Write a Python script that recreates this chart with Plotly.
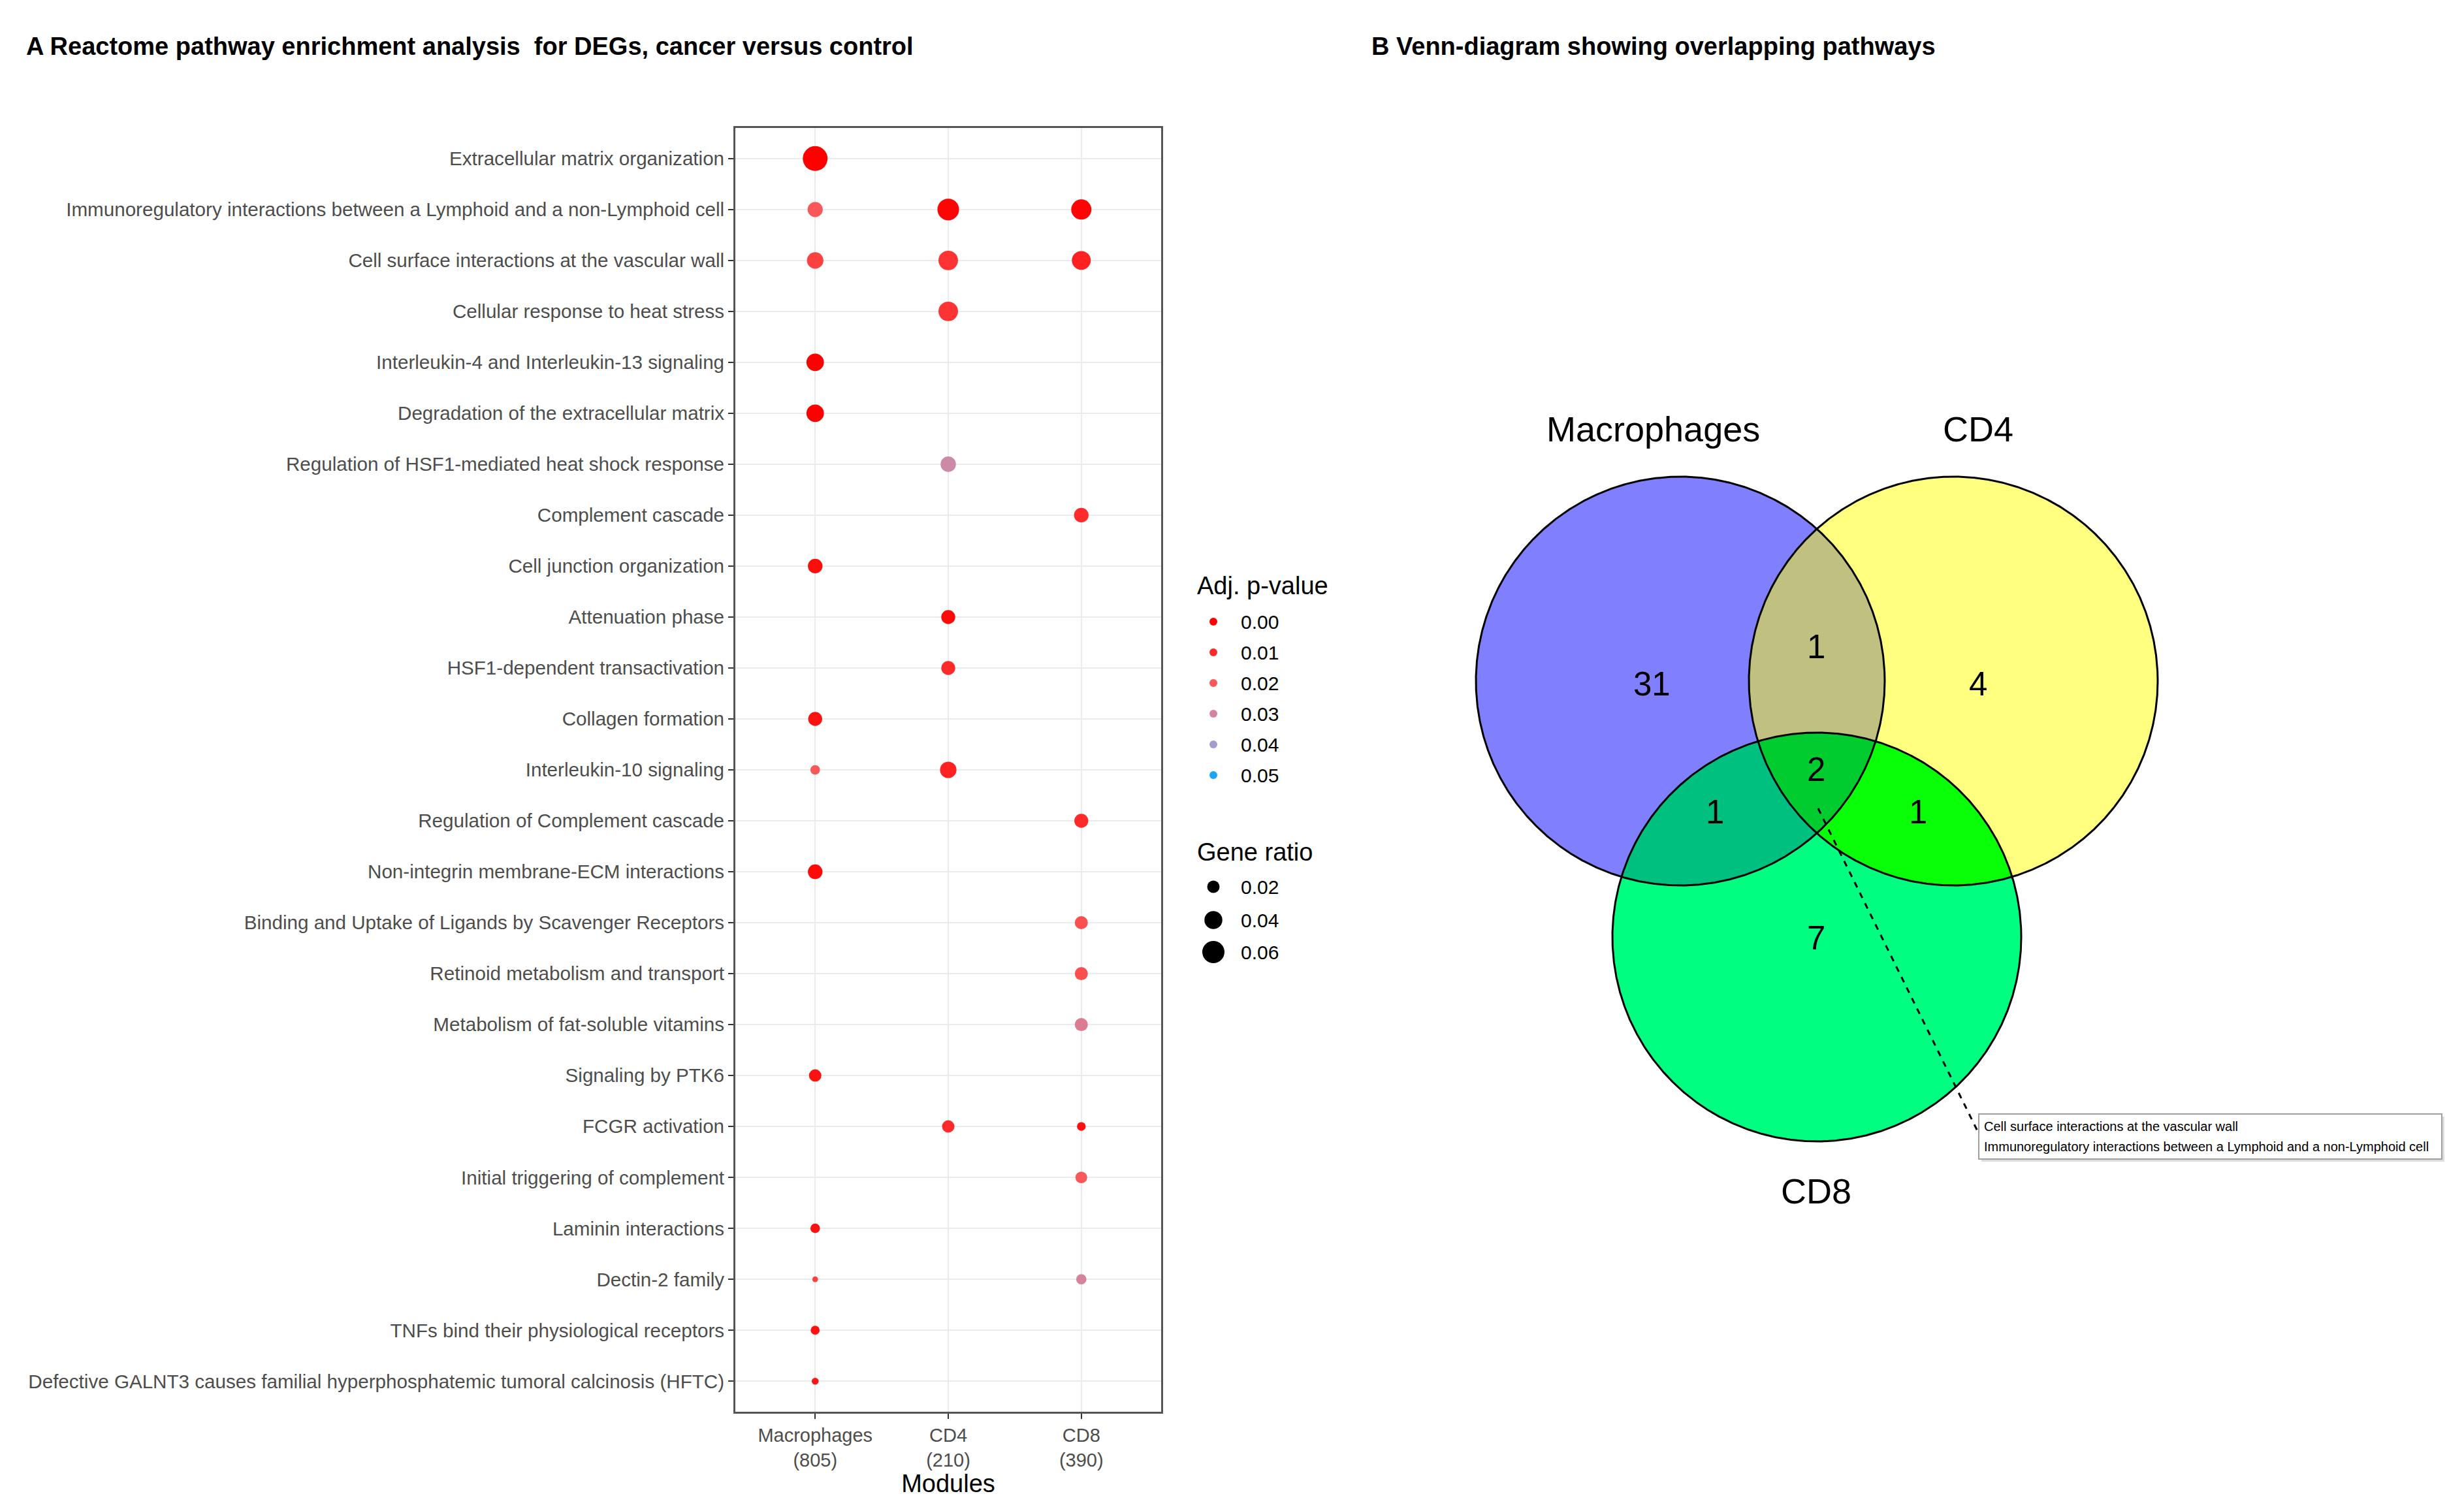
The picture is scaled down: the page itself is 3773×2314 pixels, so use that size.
import numpy as np
import plotly.graph_objects as go

W, H = 3773, 2314          # screenshot size
OFF = 8                    # default body margin of the html page
FW, FH = W - 2 * OFF, H - 2 * OFF
FONT = "Liberation Sans, Arial, sans-serif"

# ---------------- data ----------------
pathways = [
    "Extracellular matrix organization",
    "Immunoregulatory interactions between a Lymphoid and a non-Lymphoid cell",
    "Cell surface interactions at the vascular wall",
    "Cellular response to heat stress",
    "Interleukin-4 and Interleukin-13 signaling",
    "Degradation of the extracellular matrix",
    "Regulation of HSF1-mediated heat shock response",
    "Complement cascade",
    "Cell junction organization",
    "Attenuation phase",
    "HSF1-dependent transactivation",
    "Collagen formation",
    "Interleukin-10 signaling",
    "Regulation of Complement cascade",
    "Non-integrin membrane-ECM interactions",
    "Binding and Uptake of Ligands by Scavenger Receptors",
    "Retinoid metabolism and transport",
    "Metabolism of fat-soluble vitamins",
    "Signaling by PTK6",
    "FCGR activation",
    "Initial triggering of complement",
    "Laminin interactions",
    "Dectin-2 family",
    "TNFs bind their physiological receptors",
    "Defective GALNT3 causes familial hyperphosphatemic tumoral calcinosis (HFTC)",
]
modules = ["Macrophages", "CD4", "CD8"]
module_n = [805, 210, 390]

N = None
mac_ratio = [0.074, 0.029, 0.034, N, 0.038, 0.038, N, N, 0.027, N, N, 0.025, 0.0125,
             N, 0.027, N, N, N, 0.020, N, N, 0.0125, 0.005, 0.011, 0.007]
mac_padj = [0.000, 0.020, 0.015, N, 0.000, 0.000, N, N, 0.003, N, N, 0.004, 0.020,
            N, 0.002, N, N, N, 0.004, N, N, 0.004, 0.015, 0.004, 0.005]
cd4_ratio = [N, 0.057, 0.047, 0.047, N, N, 0.030, N, N, 0.025, 0.025, N, 0.034,
             N, N, N, N, N, N, 0.020, N, N, N, N, N]
cd4_padj = [N, 0.001, 0.012, 0.012, N, N, 0.032, N, N, 0.002, 0.010, N, 0.008,
            N, N, N, N, N, N, 0.010, N, N, N, N, N]
cd8_ratio = [N, 0.050, 0.044, N, N, N, N, 0.027, N, N, N, N, N,
             0.025, N, 0.022, 0.022, 0.022, N, 0.0106, 0.018, N, 0.014, N, N]
cd8_padj = [N, 0.001, 0.008, N, N, N, N, 0.010, N, N, N, N, N,
            0.010, N, 0.018, 0.018, 0.028, N, 0.004, 0.020, N, 0.030, N, N]

padj_legend = [0.00, 0.01, 0.02, 0.03, 0.04, 0.05]
ratio_legend = [0.02, 0.04, 0.06]

venn_sets = ["Macrophages", "CD4", "CD8"]
venn_only_mac, venn_only_cd4, venn_only_cd8 = 31, 4, 7
venn_mac_cd4, venn_mac_cd8, venn_cd4_cd8, venn_all = 1, 1, 1, 2
shared_all_pathways = ["Cell surface interactions at the vascular wall",
                       "Immunoregulatory interactions between a Lymphoid and a non-Lymphoid cell"]

# ---------------- scales ----------------
padj_scale = [[0.0, "#FF0000"], [0.2, "#FF2B2B"], [0.4, "#F85858"],
              [0.6, "#D6849E"], [0.8, "#A89BCF"], [1.0, "#18A7F7"]]


def ratio_to_px(r):
    return 19 + 145 * (np.sqrt(np.asarray(r, dtype=float)) - np.sqrt(0.02))


fig = go.Figure()

# ---------------- dot plot ----------------
for mod, ratios, padjs in [("Macrophages", mac_ratio, mac_padj),
                           ("CD4", cd4_ratio, cd4_padj),
                           ("CD8", cd8_ratio, cd8_padj)]:
    ys = [p for p, r in zip(pathways, ratios) if r is not None]
    rs = [r for r in ratios if r is not None]
    ps = [p for p in padjs if p is not None]
    fig.add_trace(go.Scatter(
        x=[mod] * len(ys), y=ys, mode="markers", xaxis="x", yaxis="y",
        marker=dict(size=ratio_to_px(rs), color=ps, colorscale=padj_scale,
                    cmin=0, cmax=0.05, line=dict(width=0), opacity=1),
        showlegend=False, hoverinfo="skip"))

px_left, px_right, px_top, px_bot = 1126, 1778, 196, 2162
fig.update_layout(
    xaxis=dict(domain=[(px_left - OFF) / FW, (px_right - OFF) / FW], anchor="y",
               type="category", categoryorder="array", categoryarray=modules,
               range=[-0.6, 2.6],
               tickvals=modules,
               ticktext=[f"{m}<br>({n})" for m, n in zip(modules, module_n)],
               tickfont=dict(size=29, color="#4D4D4D", family=FONT),
               ticks="outside", ticklen=8, tickwidth=2, tickcolor="#333333",
               showgrid=True, gridcolor="#EBEBEB", gridwidth=2,
               showline=True, mirror=True, linecolor="#555555", linewidth=3,
               zeroline=False,
               title=dict(text="Modules", font=dict(size=38, color="#000000", family=FONT),
                          standoff=2)),
    yaxis=dict(domain=[1 - (px_bot - OFF) / FH, 1 - (px_top - OFF) / FH], anchor="x",
               type="category", categoryorder="array",
               categoryarray=list(reversed(pathways)),
               range=[-0.6, len(pathways) - 0.4],
               tickfont=dict(size=29.6, color="#4D4D4D", family=FONT),
               ticks="outside", ticklen=8, tickwidth=2, tickcolor="#333333",
               showgrid=True, gridcolor="#EBEBEB", gridwidth=2,
               showline=True, mirror=True, linecolor="#555555", linewidth=3,
               zeroline=False),
    xaxis2=dict(domain=[0, 1], anchor="y2", range=[OFF, OFF + FW], visible=False,
                fixedrange=True),
    yaxis2=dict(domain=[0, 1], anchor="x2", range=[OFF + FH, OFF], visible=False,
                fixedrange=True),
)

annotations = []


def txt(x, y, s, size, color="#000000", xanchor="center", yanchor="middle", bold=False):
    if bold:
        s = f"<b>{s}</b>"
    annotations.append(dict(x=x, y=y, xref="x2", yref="y2", text=s, showarrow=False,
                            xanchor=xanchor, yanchor=yanchor,
                            font=dict(size=size, color=color, family=FONT)))


# ---------------- legends ----------------
leg_x = 1858
txt(1831, 897, "Adj. p-value", 38, xanchor="left")
padj_leg_y = [952, 999, 1046, 1093, 1140, 1187]
fig.add_trace(go.Scatter(
    x=[leg_x] * len(padj_legend), y=padj_leg_y, xaxis="x2", yaxis="y2", mode="markers",
    marker=dict(size=12, color=padj_legend, colorscale=padj_scale, cmin=0, cmax=0.05,
                line=dict(width=0), opacity=1),
    showlegend=False, hoverinfo="skip"))
for v, yy in zip(padj_legend, padj_leg_y):
    txt(1898, yy, f"{v:.2f}", 30, xanchor="left")

txt(1831, 1305, "Gene ratio", 38, xanchor="left")
ratio_leg_y = [1358, 1409, 1458]
fig.add_trace(go.Scatter(
    x=[leg_x] * len(ratio_legend), y=ratio_leg_y, xaxis="x2", yaxis="y2", mode="markers",
    marker=dict(size=ratio_to_px(ratio_legend), color="#000000", line=dict(width=0),
                opacity=1),
    showlegend=False, hoverinfo="skip"))
for v, yy in zip(ratio_legend, ratio_leg_y):
    txt(1898, yy, f"{v:.2f}", 30, xanchor="left")

# ---------------- titles ----------------
txt(38, 71, "A Reactome pathway enrichment analysis  for DEGs, cancer versus control", 38,
    xanchor="left", bold=True)
txt(2098, 71, "B Venn-diagram showing overlapping pathways", 38, xanchor="left", bold=True)

# ---------------- Venn diagram ----------------
centers = np.array([[2573.0, 1043.0], [2991.0, 1043.0], [2782.0, 1435.0]])
R = 313.0
theta = np.linspace(0, 2 * np.pi, 1441)


def circle_pts(i):
    return centers[i, 0] + R * np.cos(theta), centers[i, 1] + R * np.sin(theta)


def convex_region(idx):
    pts = []
    for i in idx:
        cx, cy = circle_pts(i)
        P = np.column_stack([cx, cy])
        mask = np.ones(len(P), bool)
        for j in idx:
            if j != i:
                mask &= np.hypot(P[:, 0] - centers[j, 0], P[:, 1] - centers[j, 1]) <= R + 1e-6
        pts.append(P[mask])
    P = np.vstack(pts)
    c = P.mean(axis=0)
    order = np.argsort(np.arctan2(P[:, 1] - c[1], P[:, 0] - c[0]))
    P = P[order]
    P = np.vstack([P, P[:1]])
    return P[:, 0], P[:, 1]


def fill_poly(xs, ys, color):
    fig.add_trace(go.Scatter(x=xs, y=ys, xaxis="x2", yaxis="y2", mode="lines",
                             fill="toself", fillcolor=color, line=dict(width=0),
                             showlegend=False, hoverinfo="skip"))


set_colors = ["#8080FF", "#FFFF80", "#00FF80"]
for i in range(3):
    cx, cy = circle_pts(i)
    fill_poly(cx, cy, set_colors[i])
for idx, col in [((0, 1), "#C0C080"), ((0, 2), "#00C080"), ((1, 2), "#08FF08"),
                 ((0, 1, 2), "#00CC30")]:
    xs, ys = convex_region(idx)
    fill_poly(xs, ys, col)
for i in range(3):
    cx, cy = circle_pts(i)
    fig.add_trace(go.Scatter(x=cx, y=cy, xaxis="x2", yaxis="y2", mode="lines",
                             line=dict(color="#000000", width=3),
                             showlegend=False, hoverinfo="skip"))

# set labels
txt(2531, 657, venn_sets[0], 54)
txt(3029, 657, venn_sets[1], 54)
txt(2781, 1824, venn_sets[2], 54)
# counts
for (x, y), v in [((2529, 1047), venn_only_mac), ((3029, 1047), venn_only_cd4),
                  ((2781, 1436), venn_only_cd8), ((2781, 990), venn_mac_cd4),
                  ((2626, 1243), venn_mac_cd8), ((2937, 1243), venn_cd4_cd8),
                  ((2781, 1178), venn_all)]:
    txt(x, y, str(v), 51)

# dashed leader line + callout box
fig.add_trace(go.Scatter(x=[2784, 3032], y=[1238, 1740], xaxis="x2", yaxis="y2",
                         mode="lines", line=dict(color="#000000", width=3, dash="dash"),
                         showlegend=False, hoverinfo="skip"))
shapes = [
    dict(type="rect", xref="x2", yref="y2", x0=3034, x1=3743, y0=1710, y1=1779,
         fillcolor="#DDDDDD", line=dict(width=0), layer="above"),
    dict(type="rect", xref="x2", yref="y2", x0=3030, x1=3739, y0=1706, y1=1775,
         fillcolor="#FFFFFF", line=dict(color="#A0A0A0", width=2), layer="above"),
]
for k, s in enumerate(shared_all_pathways):
    annotations.append(dict(x=3036, y=1725 + 31 * k, xref="x2", yref="y2", text=s,
                            showarrow=False, xanchor="left", yanchor="middle",
                            font=dict(size=20, color="#000000", family=FONT)))

fig.update_layout(
    width=FW, height=FH, margin=dict(l=0, r=0, t=0, b=0),
    paper_bgcolor="#FFFFFF", plot_bgcolor="rgba(0,0,0,0)",
    font=dict(family=FONT),
    annotations=annotations, shapes=shapes, showlegend=False,
)

fig.write_html("out.html")
